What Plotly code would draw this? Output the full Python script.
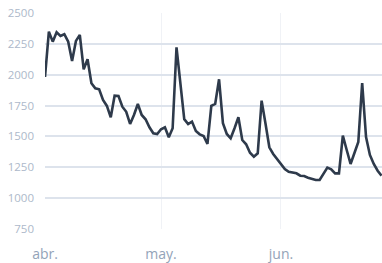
import pandas as pd
import plotly.graph_objects as go

start_date = "2024-04-01"
values = [
    1982, 2349, 2268, 2344, 2314, 2328, 2268, 2111, 2274, 2322,
    2044, 2125, 1931, 1890, 1882, 1795, 1747, 1655, 1830, 1828,
    1741, 1700, 1601, 1674, 1763, 1674, 1639, 1574, 1526, 1520,
    1558, 1574, 1493, 1566, 2222, 1905, 1640, 1600, 1620, 1544,
    1517, 1504, 1439, 1747, 1763, 1963, 1607, 1520, 1485, 1566,
    1655, 1471, 1436, 1368, 1336, 1363, 1790, 1605, 1412, 1358,
    1315, 1269, 1236, 1214, 1206, 1201, 1182, 1179, 1166, 1155,
    1147, 1147, 1201, 1247, 1234, 1201, 1201, 1506, 1390, 1277,
    1366, 1455, 1933, 1495, 1350, 1277, 1222, 1182,
]
dates = pd.date_range(start_date, periods=len(values), freq="D")

month_ticks = ["2024-04-01", "2024-05-01", "2024-06-01"]
month_labels = ["abr.", "may.", "jun."]
y_ticks = [750, 1000, 1250, 1500, 1750, 2000, 2250, 2500]

fig = go.Figure(
    go.Scatter(
        x=dates, y=values, mode="lines",
        line=dict(color="#2e3a4b", width=2.6),
        hoverinfo="skip",
    )
)

fig.update_layout(
    width=382, height=263,
    margin=dict(l=45, r=0, t=13, b=34),
    paper_bgcolor="white", plot_bgcolor="white",
    showlegend=False,
    font=dict(family="Open Sans", color="#a9b6c8"),
)
fig.update_xaxes(
    range=[pd.Timestamp(start_date), pd.Timestamp("2024-06-27 03:00")],
    tickvals=month_ticks, ticktext=month_labels,
    tickfont=dict(size=14, color="#93a3b8"),
    showgrid=True, gridcolor="#f0f2f6", gridwidth=1,
    zeroline=False, showline=False,
    ticks="", ticklabelstandoff=15,
)
fig.update_yaxes(
    range=[750, 2500],
    tickvals=y_ticks,
    tickfont=dict(size=11.5, color="#adb9ca"),
    showgrid=True, gridcolor="#dde3ec", gridwidth=2,
    zeroline=False, showline=False,
    ticks="", ticklabelstandoff=10,
)

fig.write_html(
    "out.html",
    config={"displayModeBar": False},
    post_script="document.body.style.margin='0';document.body.style.overflow='hidden';",
)
